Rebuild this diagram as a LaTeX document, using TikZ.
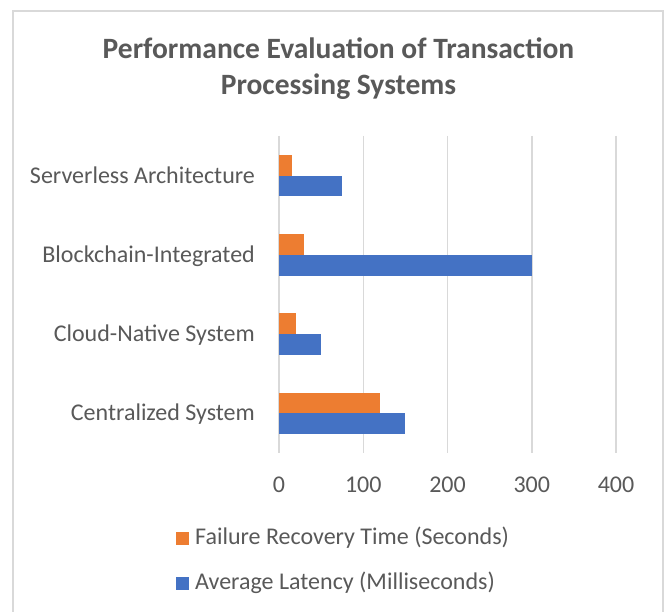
\documentclass[tikz,border=0pt]{standalone}
\usepackage{fontspec}
\setmainfont{Carlito}
\definecolor{txt}{HTML}{595959}
\definecolor{gridc}{HTML}{D9D9D9}
\definecolor{orangebar}{HTML}{ED7D31}
\definecolor{bluebar}{HTML}{4472C4}
\begin{document}
\begin{tikzpicture}[x=1bp,y=-1bp,
  lbl/.style={text=txt,font=\fontsize{24bp}{28bp}\selectfont,inner sep=0pt},
  ttl/.style={text=txt,font=\bfseries\fontsize{29.5bp}{36bp}\selectfont,inner sep=0pt,anchor=base},
  gridline/.style={draw=gridc,line width=1.5bp},
  framel/.style={draw=gridc,line width=1.5bp},
  obar/.style={fill=orangebar},
  bbar/.style={fill=bluebar}]
\useasboundingbox (0,0) rectangle (665,612);
\fill[white] (0,0) rectangle (665,612);
% chart frame
\coordinate (fbl) at (13,640);
\coordinate (ftl) at (13,11);
\coordinate (ftr) at (663,11);
\coordinate (fbr) at (663,640);
\draw[framel] (fbl) -- (ftl) -- (ftr) -- (fbr);
% title
\node[ttl] (title1) at (338.5,59) {Performance Evaluation of Transaction};
\node[ttl] (title2) at (338.5,95) {Processing Systems};
% gridlines and tick labels
\foreach \v/\t in {0/0,1/100,2/200,3/300,4/400}{
  \coordinate (gt\v) at ({279+84.25*\v},136);
  \coordinate (gb\v) at ({279+84.25*\v},453);
  \draw[gridline] (gt\v) -- (gb\v);
  \node[lbl,anchor=base] (tick\v) at ({279+84.25*\v},492.5) {\t};
}
% bars
\foreach \k/\o/\b/\name in {0/15/75/Serverless Architecture,1/30/300/Blockchain-Integrated,2/20/50/Cloud-Native System,3/120/150/Centralized System}{
  \pgfmathsetmacro{\c}{136+79.25*(\k+0.5)}
  \fill[obar] (279,{\c-20.7}) rectangle ({279+0.8425*\o},\c);
  \fill[bbar] (279,\c) rectangle ({279+0.8425*\b},{\c+20.7});
  \node[lbl,anchor=base east] (cat\k) at (255,{\c+7.5}) {\name};
}
% legend
\node[fill=orangebar,minimum size=13bp,inner sep=0pt] (lgo) at (182.5,538) {};
\node[lbl,anchor=base west] (lgot) at (195,544.3) {Failure Recovery Time (Seconds)};
\node[fill=bluebar,minimum size=13bp,inner sep=0pt] (lgb) at (182.5,583) {};
\node[lbl,anchor=base west] (lgbt) at (195,589.3) {Average Latency (Milliseconds)};
\end{tikzpicture}
\end{document}
